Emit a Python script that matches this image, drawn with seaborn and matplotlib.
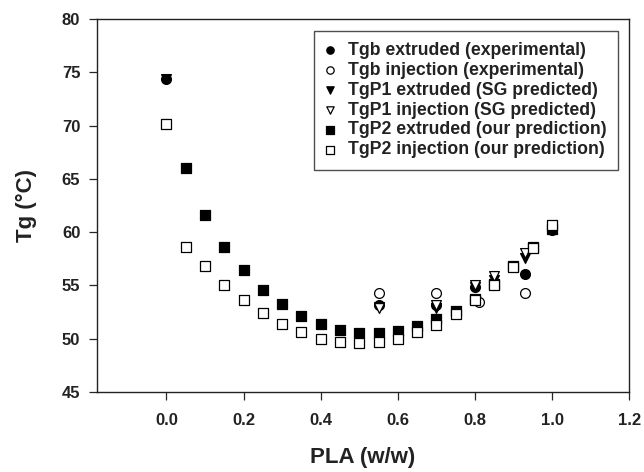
import numpy as np
import pandas as pd
import matplotlib
matplotlib.use("Agg")
import matplotlib.pyplot as plt
import seaborn as sns

sns.set_style("ticks")
plt.rcParams['font.family'] = ['Liberation Sans', 'DejaVu Sans']

# PLA weight fraction for the model curves
pla_model_ext = [0.05, 0.1, 0.15, 0.2, 0.25, 0.3, 0.35, 0.4, 0.45, 0.5,
                 0.55, 0.6, 0.65, 0.7, 0.75, 0.8, 0.85, 0.9, 0.95, 1.0]
tgp2_extruded = [66.0, 61.6, 58.6, 56.4, 54.6, 53.2, 52.1, 51.4, 50.8, 50.5,
                 50.5, 50.7, 51.2, 51.8, 52.6, 53.7, 55.1, 56.8, 58.6, 60.3]
pla_model_inj = [0.0, 0.05, 0.1, 0.15, 0.2, 0.25, 0.3, 0.35, 0.4, 0.45, 0.5,
                 0.55, 0.6, 0.65, 0.7, 0.75, 0.8, 0.85, 0.9, 0.95, 1.0]
tgp2_injection = [70.1, 58.6, 56.8, 55.0, 53.6, 52.4, 51.4, 50.6, 50.0, 49.7, 49.6,
                  49.7, 50.0, 50.6, 51.3, 52.3, 53.6, 55.0, 56.7, 58.5, 60.7]

# experimental points
pla_tgb_ext = [0.0, 0.55, 0.7, 0.8, 0.93, 1.0]
tgb_extruded = [74.4, 53.1, 53.1, 54.8, 56.1, 60.2]
pla_tgb_inj = [0.0, 0.55, 0.7, 0.81, 0.93, 1.0]
tgb_injection = [70.1, 54.3, 54.3, 53.4, 54.3, 60.6]

# Schneider-Gordon predictions
pla_tgp1 = [0.0, 0.55, 0.7, 0.8, 0.85, 0.93, 1.0]
tgp1_extruded = [74.4, 53.0, 52.9, 54.8, 55.5, 57.6, 60.2]
tgp1_injection = [70.1, 52.9, 53.1, 55.0, 55.9, 58.0, 60.6]

# (label, x, y, marker, face, zorder) - filled squares sit underneath the rest
series = [
    ("Tgb extruded (experimental)", pla_tgb_ext, tgb_extruded, "o", "black", 3),
    ("Tgb injection (experimental)", pla_tgb_inj, tgb_injection, "o", "white", 3),
    ("TgP1 extruded (SG predicted)", pla_tgp1, tgp1_extruded, "v", "black", 3),
    ("TgP1 injection (SG predicted)", pla_tgp1, tgp1_injection, "v", "white", 3),
    ("TgP2 extruded (our prediction)", pla_model_ext, tgp2_extruded, "s", "black", 2),
    ("TgP2 injection (our prediction)", pla_model_inj, tgp2_injection, "s", "white", 4),
]

fig = plt.figure(figsize=(6.44, 4.72), dpi=100)
ax = fig.add_axes([0.1506, 0.170, 0.8264, 0.7897])

for label, xs, ys, mk, face, z in series:
    df = pd.DataFrame({"PLA": xs, "Tg": ys})
    sns.scatterplot(data=df, x="PLA", y="Tg", marker=mk, color=face,
                    edgecolor="black", linewidth=0.9, s=50, label=label,
                    zorder=z, ax=ax)

ax.set_xlim(-0.18, 1.2)
ax.set_ylim(45, 80)
ax.set_xticks([0.0, 0.2, 0.4, 0.6, 0.8, 1.0, 1.2])
ax.set_xticklabels(["0.0", "0.2", "0.4", "0.6", "0.8", "1.0", "1.2"])
ax.set_yticks([45, 50, 55, 60, 65, 70, 75, 80])
ax.tick_params(direction="out", length=6, width=0.9, labelsize=12)
ax.tick_params(axis="x", pad=9)
ax.tick_params(axis="y", pad=6)
for t in ax.get_xticklabels() + ax.get_yticklabels():
    t.set_fontweight("bold")
    t.set_color("#222222")
for sp in ax.spines.values():
    sp.set_linewidth(1.0)
    sp.set_color("#222222")

ax.set_xlabel("PLA (w/w)", fontsize=16, fontweight="bold", labelpad=14, color="#222222")
ax.set_ylabel("Tg (°C)", fontsize=16, fontweight="bold", labelpad=18, color="#222222")

leg = ax.legend(loc="upper right", bbox_to_anchor=(0.979, 0.969), borderaxespad=0,
                frameon=True, fancybox=False, fontsize=12.7, markerscale=0.75,
                labelspacing=0.16, handletextpad=0.75, borderpad=0.65, handlelength=0.5)
leg.get_frame().set_edgecolor("#222222")
leg.get_frame().set_linewidth(1.0)
for t in leg.get_texts():
    t.set_fontweight("bold")
    t.set_color("#222222")

fig.savefig("out.png", dpi=100)
